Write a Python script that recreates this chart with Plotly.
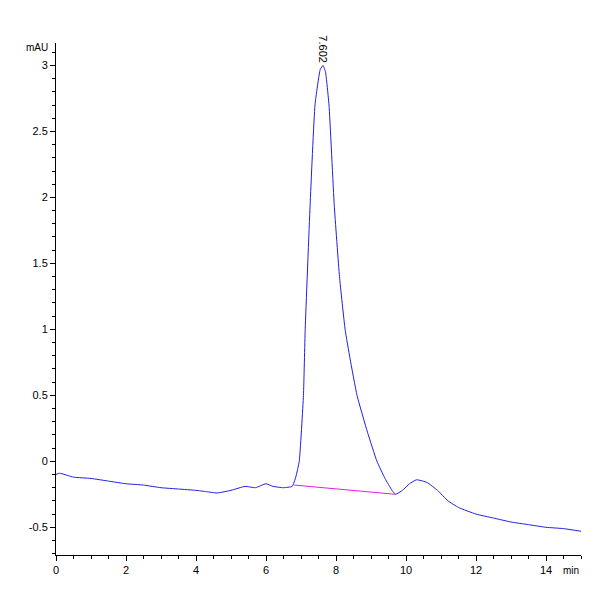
import plotly.graph_objects as go

# signal trace (min, mAU)
time_min = [0, 0.1, 0.5, 1.0, 1.5, 2.0, 2.5, 3.0, 3.5, 4.0, 4.3, 4.6, 5.0, 5.4, 5.7, 6.0, 6.2, 6.5, 6.75,
            6.85, 6.95, 7.07, 7.12, 7.26, 7.4, 7.55, 7.63, 7.7, 7.8, 7.95, 8.1, 8.26, 8.4, 8.6, 8.9,
            9.17, 9.4, 9.6, 9.7, 9.9, 10.1, 10.3, 10.6, 10.9, 11.2, 11.5, 12.0, 12.5, 13.0, 13.5,
            14.0, 14.5, 15.0]
signal_mau = [-0.1, -0.09, -0.12, -0.13, -0.15, -0.17, -0.18, -0.2, -0.21, -0.22, -0.23, -0.24, -0.22,
              -0.19, -0.2, -0.17, -0.19, -0.2, -0.19, -0.12, 0.0, 0.5, 1.0, 1.94, 2.7, 2.97, 3.0, 2.95,
              2.7, 1.94, 1.4, 1.0, 0.78, 0.5, 0.22, 0.0, -0.13, -0.22, -0.25, -0.22, -0.17, -0.14,
              -0.16, -0.22, -0.3, -0.35, -0.4, -0.43, -0.46, -0.48, -0.5, -0.51, -0.53]

# integration baseline
base_t = [6.8, 9.7]
base_v = [-0.18, -0.25]

peak_t = 7.602
peak_label = "7.602"

fig = go.Figure()
fig.add_trace(go.Scatter(x=time_min, y=signal_mau, mode="lines",
                         line=dict(color="#2020e0", width=1, shape="spline", smoothing=0.4)))
fig.add_trace(go.Scatter(x=base_t, y=base_v, mode="lines", line=dict(color="#e020e0", width=1)))

fig.add_annotation(x=peak_t, y=3.0, text=peak_label, textangle=90, showarrow=False,
                   yanchor="bottom", xanchor="center", font=dict(size=11, color="black"))
fig.add_annotation(x=0, y=1, xref="paper", yref="paper", text="mAU", showarrow=False,
                   xanchor="right", yanchor="bottom", xshift=-6, yshift=-12, font=dict(size=10, color="black"))
fig.add_annotation(x=1, y=0, xref="paper", yref="paper", text="min", showarrow=False,
                   xanchor="right", yanchor="top", yshift=-8, font=dict(size=10, color="black"))

axis_style = dict(showgrid=False, zeroline=False, showline=True, linecolor="black", linewidth=1,
                  ticks="outside", ticklen=5, tickcolor="black", tickfont=dict(size=11, color="black"))
fig.update_xaxes(range=[0, 15], tickvals=[0, 2, 4, 6, 8, 10, 12, 14],
                 minor=dict(dtick=0.5, ticks="outside", ticklen=3, tickcolor="black"), **axis_style)
fig.update_yaxes(range=[-0.71, 3.17], tickvals=[-0.5, 0, 0.5, 1, 1.5, 2, 2.5, 3],
                 ticktext=["-0.5", "0", "0.5", "1", "1.5", "2", "2.5", "3"], automargin=False,
                 minor=dict(dtick=0.1, ticks="outside", ticklen=3, tickcolor="black"), **axis_style)

fig.update_layout(width=600, height=600, showlegend=False, plot_bgcolor="white", paper_bgcolor="white",
                  margin=dict(l=48, r=27, t=35, b=53), font=dict(family="Liberation Sans"))

fig.write_html("out.html")
